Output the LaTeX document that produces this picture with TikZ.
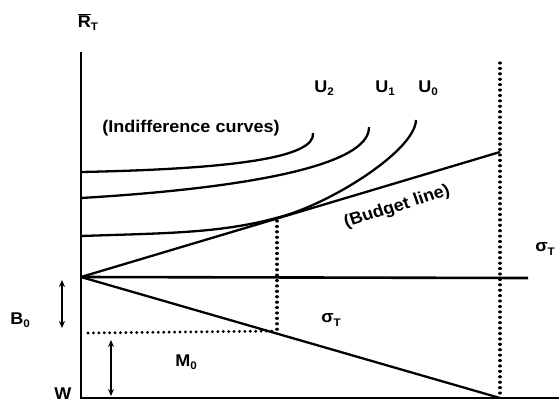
\documentclass[tikz,border=0pt]{standalone}
\usepackage{fontspec}
\setmainfont{Liberation Sans}
\usetikzlibrary{arrows.meta}
\newcommand\sbs[1]{\raisebox{-0.4ex}{\fontsize{11}{11}\selectfont #1}}
\begin{document}
\begin{tikzpicture}[x=1pt,y=-1pt,
  lbl/.style={font=\fontsize{17}{17}\selectfont\bfseries, inner sep=0pt, xscale=1.06},
  thick line/.style={line width=2.6pt},
  curve/.style={line width=2.3pt},
  dotline/.style={line width=3.2pt, dash pattern=on 0.01pt off 5.4pt, line cap=round},
  dblarrow/.style={line width=2pt, {Stealth[length=7pt,width=6pt]}-{Stealth[length=7pt,width=6pt]}}]
\useasboundingbox (0,0) rectangle (559,402);
% coordinates
\coordinate (top) at (81,52);
\coordinate (W) at (81,398);
\coordinate (O) at (81,277);
\coordinate (B) at (500,152);
\coordinate (S) at (500,398);
\coordinate (H) at (528,278);
\coordinate (br) at (559,398);
\coordinate (T) at (285,215.5);
\coordinate (Tb) at (277,221);
\coordinate (Tl) at (277,331);
\coordinate (Ml) at (88,333);
\coordinate (Rt) at (500,63);
% axes and lines
\draw[thick line] (top) -- (W) -- (br);
\draw[thick line] (O) -- (H);
\draw[curve] (O) -- (B);
\draw[curve] (O) -- (S);
% dotted
\draw[dotline] (Rt) -- (S);
\draw[dotline] (Tb) -- (Tl);
\draw[dotline] (Ml) -- (Tl);
% indifference curves
\draw[curve] (81,172) .. controls (230,169) and (316,158) .. (313,133);
\draw[curve] (81,198) .. controls (250,188) and (370,165) .. (369,127);
\draw[curve] (81,236) .. controls (170,233) and (225,233.3) .. (T)
   .. controls (335,200.6) and (415,150) .. (416,120);
% arrows
\coordinate (a1t) at (62,280);
\coordinate (a1b) at (62,328);
\coordinate (a2t) at (111,340);
\coordinate (a2b) at (111,396);
\draw[dblarrow] (a1t) -- (a1b);
\draw[dblarrow] (a2t) -- (a2b);
% labels
\node[lbl] (RT) at (88,22) {$\overline{\hbox{R}}$\sbs{T}};
\node[lbl] (U2) at (324,88) {U\sbs{2}};
\node[lbl] (U1) at (385,88) {U\sbs{1}};
\node[lbl] (U0) at (428,88) {U\sbs{0}};
\node[lbl] (ic) at (191,128) {(Indifference curves)};
\node[lbl, rotate=18] (bl) at (397,207) {(Budget line)};
\node[lbl] (s1) at (545,249) {σ\sbs{T}};
\node[lbl] (s2) at (331,320) {σ\sbs{T}};
\node[lbl] (B0) at (20,320) {B\sbs{0}};
\node[lbl] (M0) at (186,362) {M\sbs{0}};
\node[lbl] (Wl) at (63,394) {W};
\end{tikzpicture}
\end{document}
